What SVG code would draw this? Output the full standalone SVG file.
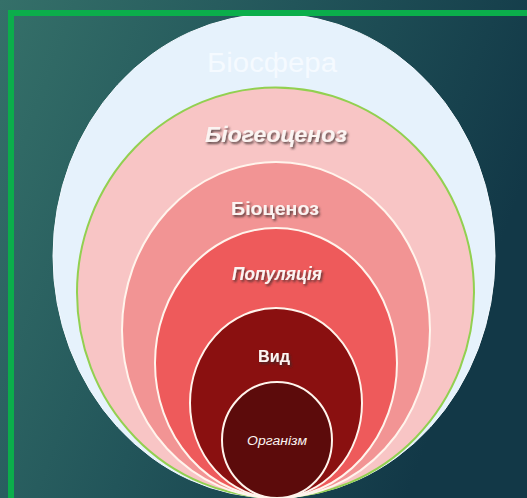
<svg xmlns="http://www.w3.org/2000/svg" width="527" height="498" viewBox="0 0 527 498">
<defs>
<linearGradient id="bg" x1="0" y1="0" x2="1" y2="0.35">
<stop offset="0" stop-color="#357069"/>
<stop offset="0.5" stop-color="#22555A"/>
<stop offset="1" stop-color="#123847"/>
</linearGradient>
<filter id="sh" x="-10%" y="-30%" width="130%" height="170%">
<feDropShadow dx="1.5" dy="2" stdDeviation="0.8" flood-color="#3a2a2a" flood-opacity="0.8"/>
</filter>
</defs>
<style>
.lvl{stroke:#FFF4EC;stroke-width:2}
.t{font-family:"Liberation Sans","DejaVu Sans",sans-serif;text-anchor:middle;fill:#FBF4F2;font-weight:bold}
.light{font-weight:normal}
</style>
<rect x="0" y="0" width="527" height="498" fill="url(#bg)"/>
<g id="biosphere">
<ellipse cx="274" cy="256" rx="221" ry="242" fill="#E6F2FC" stroke="#F4FAFF" stroke-width="1"/>
<text x="272" y="72" style="font-family:'Liberation Sans','DejaVu Sans',sans-serif;font-size:27px;text-anchor:middle;fill:#F5FAFF" textLength="130" lengthAdjust="spacingAndGlyphs">Біосфера</text>
</g>
<g id="biogeocenosis">
<ellipse cx="275.5" cy="292.5" rx="198.5" ry="205" fill="#F8C5C5" stroke="#92D050" stroke-width="2"/>
<text class="t" x="276" y="142" font-size="22" font-style="italic" filter="url(#sh)" textLength="142" lengthAdjust="spacingAndGlyphs">Біогеоценоз</text>
</g>
<g id="biocenosis">
<ellipse class="lvl" cx="276" cy="330" rx="154" ry="168" fill="#F29494"/>
<text class="t" x="275" y="215" font-size="19" filter="url(#sh)" textLength="88" lengthAdjust="spacingAndGlyphs">Біоценоз</text>
</g>
<g id="population">
<ellipse class="lvl" cx="276" cy="363" rx="121" ry="135" fill="#EE5A5B"/>
<text class="t" x="277" y="280" font-size="18" font-style="italic" filter="url(#sh)" textLength="90" lengthAdjust="spacingAndGlyphs">Популяція</text>
</g>
<g id="species">
<ellipse class="lvl" cx="276" cy="403" rx="86" ry="95" fill="#8A1010"/>
<text class="t" x="274" y="362" font-size="17" filter="url(#sh)" textLength="32" lengthAdjust="spacingAndGlyphs">Вид</text>
</g>
<g id="organism">
<ellipse class="lvl" cx="277" cy="440" rx="55" ry="58" fill="#5C0B0B"/>
<text class="t light" x="277" y="445" font-size="12" font-style="italic" textLength="60" lengthAdjust="spacingAndGlyphs">Організм</text>
</g>
<rect x="11" y="13" width="530" height="500" fill="none" stroke="#0BAE4B" stroke-width="6"/>
</svg>
